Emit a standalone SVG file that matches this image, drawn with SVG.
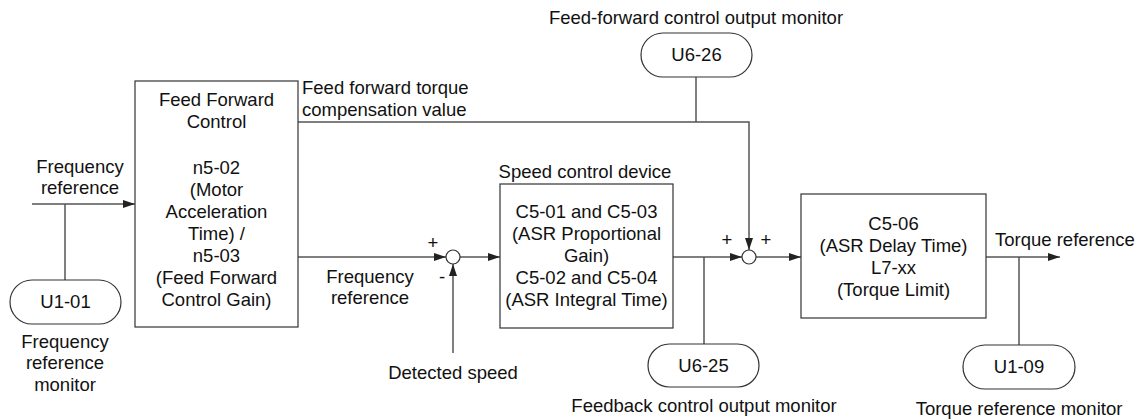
<svg xmlns="http://www.w3.org/2000/svg" width="1140" height="420" viewBox="0 0 1140 420">
<defs>
<marker id="arr" markerWidth="12" markerHeight="8" refX="12" refY="4" orient="auto" markerUnits="userSpaceOnUse">
<path d="M0,0 L12,4 L0,8 Z" fill="#222"/>
</marker>
<style>
text{font-family:"Liberation Sans",Arial,sans-serif;font-size:18.5px;fill:#111}
.c{text-anchor:middle}
.box{fill:#fff;stroke:#333;stroke-width:1.2}
.pill{fill:#fff;stroke:#333;stroke-width:1.2}
.ln{fill:none;stroke:#555;stroke-width:1.5}
.sum{fill:#fff;stroke:#333;stroke-width:1.2}
</style>
</defs>
<g id="connectors">
<path class="ln" d="M32,204 H135" marker-end="url(#arr)"/>
<path class="ln" d="M65,204 V280"/>
<path class="ln" d="M298,122 H749 V250" marker-end="url(#arr)"/>
<path class="ln" d="M696,77 V122"/>
<path class="ln" d="M298,257 H446" marker-end="url(#arr)"/>
<path class="ln" d="M460,257 H500" marker-end="url(#arr)"/>
<path class="ln" d="M453,353 V264" marker-end="url(#arr)"/>
<path class="ln" d="M673,257 H742" marker-end="url(#arr)"/>
<path class="ln" d="M704,257 V344"/>
<path class="ln" d="M756,257 H801" marker-end="url(#arr)"/>
<path class="ln" d="M986,257 H1060" marker-end="url(#arr)"/>
<path class="ln" d="M1019,257 V345"/>
</g>
<g id="ff-box">
<rect class="box" x="135" y="81" width="163" height="246"/>
<text class="c" x="216.5" y="106">Feed Forward</text>
<text class="c" x="216.5" y="128">Control</text>
<text class="c" x="216.5" y="174">n5-02</text>
<text class="c" x="216.5" y="196">(Motor</text>
<text class="c" x="216.5" y="218">Acceleration</text>
<text class="c" x="216.5" y="240">Time) /</text>
<text class="c" x="216.5" y="262">n5-03</text>
<text class="c" x="216.5" y="284">(Feed Forward</text>
<text class="c" x="216.5" y="306">Control Gain)</text>
</g>
<g id="speed-box">
<text class="c" x="585" y="178">Speed control device</text>
<rect class="box" x="500" y="184" width="173" height="144"/>
<text class="c" x="586.5" y="218">C5-01 and C5-03</text>
<text class="c" x="586.5" y="240">(ASR Proportional</text>
<text class="c" x="586.5" y="262">Gain)</text>
<text class="c" x="586.5" y="284">C5-02 and C5-04</text>
<text class="c" x="586.5" y="306">(ASR Integral Time)</text>
</g>
<g id="asr-box">
<rect class="box" x="801" y="194" width="185" height="124"/>
<text class="c" x="893.5" y="230">C5-06</text>
<text class="c" x="893.5" y="252">(ASR Delay Time)</text>
<text class="c" x="893.5" y="274">L7-xx</text>
<text class="c" x="893.5" y="296">(Torque Limit)</text>
</g>
<g id="sum1">
<circle class="sum" cx="453" cy="257" r="7"/>
<text class="c" x="433" y="249">+</text>
<text class="c" x="442" y="283">-</text>
</g>
<g id="sum2">
<circle class="sum" cx="749" cy="257" r="7"/>
<text class="c" x="727" y="246">+</text>
<text class="c" x="766" y="246">+</text>
</g>
<g id="u1-01">
<rect class="pill" x="10" y="280" width="111" height="44" rx="22"/>
<text class="c" x="65.5" y="308">U1-01</text>
<text class="c" x="65" y="348">Frequency</text>
<text class="c" x="65" y="369">reference</text>
<text class="c" x="65" y="391">monitor</text>
</g>
<g id="u6-26">
<text class="c" x="696" y="24">Feed-forward control output monitor</text>
<rect class="pill" x="641" y="33" width="111" height="44" rx="22"/>
<text class="c" x="696.5" y="61">U6-26</text>
</g>
<g id="u6-25">
<rect class="pill" x="648" y="344" width="111" height="43" rx="21.5"/>
<text class="c" x="703.5" y="372">U6-25</text>
<text class="c" x="704" y="412">Feedback control output monitor</text>
</g>
<g id="u1-09">
<rect class="pill" x="963" y="345" width="112" height="44" rx="22"/>
<text class="c" x="1019" y="373">U1-09</text>
<text class="c" x="1019" y="415">Torque reference monitor</text>
</g>
<g id="labels">
<text class="c" x="80" y="173">Frequency</text>
<text class="c" x="80" y="194">reference</text>
<text x="302" y="94">Feed forward torque</text>
<text x="302" y="116">compensation value</text>
<text class="c" x="370" y="283">Frequency</text>
<text class="c" x="370" y="304">reference</text>
<text class="c" x="453" y="379">Detected speed</text>
<text x="995" y="246">Torque reference</text>
</g>
</svg>
